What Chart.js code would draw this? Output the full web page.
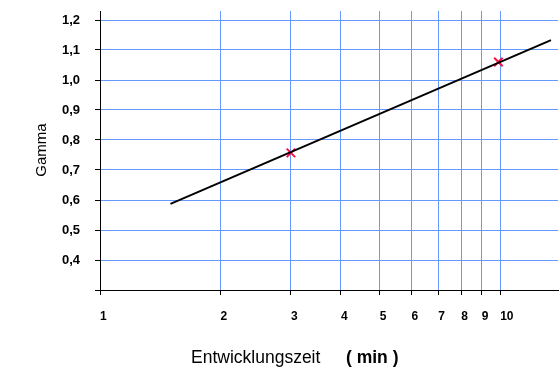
<!DOCTYPE html>
<html>
<head>
<meta charset="utf-8">
<script src="https://cdn.jsdelivr.net/npm/chart.js@4"></script>
<style>
html,body{margin:0;padding:0;background:#fff;}
canvas{display:block;}
</style>
</head>
<body>
<canvas id="c" width="559" height="390"></canvas>
<script>
// Data
const xTickValues = [1, 2, 3, 4, 5, 6, 7, 8, 9, 10];
const yTickValues = [0.3, 0.4, 0.5, 0.6, 0.7, 0.8, 0.9, 1.0, 1.1, 1.2];
const lineX = [1.5, 13.4];
const lineY = [0.587, 1.133];
const pointX = [3, 9.9];
const pointY = [0.757, 1.06];
const xTitle1 = 'Entwicklungszeit';
const xTitle2 = '( min )';
const yTitle = 'Gamma';

const FONT = '"Liberation Sans", Arial, sans-serif';
const GRID = 'rgb(102,153,255)';

const titlePlugin = {
  id: 'titles',
  afterDraw(chart) {
    const ctx = chart.ctx;
    ctx.save();
    ctx.fillStyle = '#000';
    ctx.textBaseline = 'middle';
    ctx.textAlign = 'left';
    ctx.font = '17.5px ' + FONT;
    ctx.fillText(xTitle1, 191, 358);
    ctx.font = 'bold 17.5px ' + FONT;
    ctx.fillText(xTitle2, 346, 358);
    ctx.translate(42, 150);
    ctx.rotate(-Math.PI / 2);
    ctx.textAlign = 'center';
    ctx.font = '15px ' + FONT;
    ctx.fillText(yTitle, 0, 0);
    ctx.restore();
  }
};

function zeroPad(scale) {
  scale.paddingTop = 0;
  scale.paddingBottom = 0;
  scale.paddingLeft = 0;
  scale.paddingRight = 0;
}

new Chart(document.getElementById('c'), {
  type: 'scatter',
  data: {
    datasets: [
      {
        type: 'line',
        data: lineX.map((x, i) => ({x: x, y: lineY[i]})),
        borderColor: '#000',
        borderWidth: 2,
        pointRadius: 0,
        fill: false
      },
      {
        type: 'scatter',
        data: pointX.map((x, i) => ({x: x, y: pointY[i]})),
        pointStyle: 'crossRot',
        pointRadius: 6,
        borderColor: '#ff1040',
        borderWidth: 2
      }
    ]
  },
  options: {
    responsive: false,
    devicePixelRatio: 1,
    animation: false,
    layout: {autoPadding: false, padding: {top: 11, right: 1, left: 0, bottom: 0}},
    plugins: {legend: {display: false}, tooltip: {enabled: false}},
    scales: {
      x: {
        type: 'logarithmic',
        min: 1,
        max: 13.95,
        afterBuildTicks(scale) { scale.ticks = xTickValues.map(v => ({value: v})); },
        afterFit(scale) { scale.height = 100; zeroPad(scale); },
        ticks: {
          autoSkip: false,
          maxRotation: 0,
          align: 'start',
          padding: 14,
          color: '#000',
          font: {family: FONT, size: 12, weight: 'bold'},
          callback: (v) => String(v)
        },
        grid: {
          color: (c) => (c.tick && c.tick.value === 1) ? 'rgba(0,0,0,0)' : GRID,
          tickColor: '#000',
          tickLength: 5,
          lineWidth: 1
        },
        border: {color: '#000', width: 1}
      },
      y: {
        type: 'linear',
        min: 0.3,
        max: 1.23,
        afterBuildTicks(scale) { scale.ticks = yTickValues.map(v => ({value: v})); },
        afterFit(scale) { scale.width = 100; zeroPad(scale); },
        ticks: {
          padding: 15,
          color: '#000',
          font: {family: FONT, size: 13, weight: 'bold'},
          callback: (v) => (Math.abs(v - 0.3) < 1e-9) ? '' : v.toFixed(1).replace('.', ',')
        },
        grid: {
          color: (c) => (c.tick && Math.abs(c.tick.value - 0.3) < 1e-9) ? 'rgba(0,0,0,0)' : GRID,
          tickColor: '#000',
          tickLength: 5,
          lineWidth: 1
        },
        border: {color: '#000', width: 1}
      }
    }
  },
  plugins: [titlePlugin]
});
</script>
</body>
</html>
